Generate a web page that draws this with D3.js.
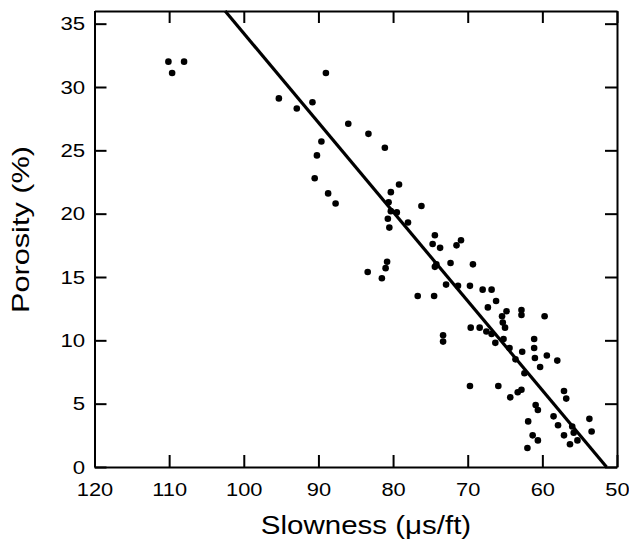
<!DOCTYPE html>
<html lang="en">
	<head>
		<meta charset="utf-8">
		<title>Porosity vs slowness</title>
		<script type="text/javascript" src="https://cdn.jsdelivr.net/npm/d3@7"></script>
		<style type="text/css">
			body {
				margin: 0;
				background: #fff;
			}
			.axis path, .axis line {
				stroke: #000;
				stroke-width: 2;
			}
			.axis text {
				font-family: "Liberation Sans", Arial, Helvetica, sans-serif;
				font-size: 19px;
				fill: #000;
			}
			.title {
				font-family: "Liberation Sans", Arial, Helvetica, sans-serif;
				fill: #000;
				text-anchor: middle;
			}
		</style>
	</head>
	<body>
		<script type="text/javascript">

			//Size of the page and the plot box
			var w = 629;
			var h = 541;
			var plotLeft = 94.5, plotRight = 617, plotTop = 11, plotBottom = 467;

			//Data
			var slowness = [110.1, 108.0, 109.6, 89.0, 95.3, 92.9, 90.8, 86.0, 83.3, 81.1,
				89.6, 90.2, 90.5, 88.7, 87.7, 79.2, 80.3, 80.6, 80.3, 79.5,
				80.7, 80.5, 78.0, 76.2, 74.4, 74.7, 73.7, 70.9, 71.5, 72.3,
				74.2, 74.4, 69.3, 80.8, 81.0, 83.4, 81.5, 72.9, 71.3, 69.7,
				68.0, 66.8, 76.7, 74.5, 66.2, 67.3, 64.8, 65.4, 65.3, 65.0,
				69.6, 68.4, 67.5, 66.8, 73.3, 73.3, 65.2, 62.8, 62.8, 59.7,
				66.3, 64.4, 63.6, 62.7, 61.1, 61.1, 61.0, 59.4, 58.0, 60.3,
				62.4, 69.7, 65.9, 64.3, 63.3, 62.8, 57.1, 56.8, 60.9, 60.6,
				61.9, 58.5, 53.7, 57.9, 56.0, 55.8, 53.4, 57.1, 61.3, 60.6,
				56.3, 55.3, 62.0];
			var porosity = [32.0, 32.0, 31.1, 31.1, 29.1, 28.3, 28.8, 27.1, 26.3, 25.2,
				25.7, 24.6, 22.8, 21.6, 20.8, 22.3, 21.7, 20.9, 20.2, 20.1,
				19.6, 18.9, 19.3, 20.6, 18.3, 17.6, 17.3, 17.9, 17.5, 16.1,
				16.0, 15.8, 16.0, 16.2, 15.7, 15.4, 14.9, 14.4, 14.3, 14.3,
				14.0, 14.0, 13.5, 13.5, 13.1, 12.6, 12.3, 11.9, 11.4, 11.0,
				11.0, 11.0, 10.7, 10.5, 10.4, 9.9, 10.1, 12.4, 12.0, 11.9,
				9.8, 9.4, 8.5, 9.1, 10.1, 9.4, 8.6, 8.8, 8.4, 7.9,
				7.4, 6.4, 6.4, 5.5, 5.9, 6.1, 6.0, 5.4, 4.9, 4.5,
				3.6, 4.0, 3.8, 3.3, 3.2, 2.7, 2.8, 2.5, 2.5, 2.1,
				1.8, 2.1, 1.5];

			//Fitted line, two end points
			var lineSlowness = [102.5, 51.4];
			var linePorosity = [36, 0];

			var xTicks = [120, 110, 100, 90, 80, 70, 60, 50];
			var yTicks = [0, 5, 10, 15, 20, 25, 30, 35];

			var svg = d3.select("body")
				.append("svg")
				.attr("width", w)
				.attr("height", h);

			var x = d3.scaleLinear().domain([120, 50]).range([plotLeft, plotRight]);
			var y = d3.scaleLinear().domain([0, 36]).range([plotBottom, plotTop]);

			//Axes, ticks point inward on all four sides
			var gx = svg.append("g")
				.attr("class", "axis")
				.attr("transform", "translate(0," + plotBottom + ")")
				.call(d3.axisBottom(x).tickValues(xTicks).tickSize(-12).tickSizeOuter(0).tickPadding(16));
			gx.selectAll("text").attr("transform", "scale(1.15,1)");

			var gy = svg.append("g")
				.attr("class", "axis")
				.attr("transform", "translate(" + plotLeft + ",0)")
				.call(d3.axisLeft(y).tickValues(yTicks).tickSize(-12).tickSizeOuter(0).tickPadding(8));
			gy.selectAll("text").attr("transform", "scale(1.17,1)");

			svg.append("g")
				.attr("class", "axis")
				.attr("transform", "translate(0," + plotTop + ")")
				.call(d3.axisTop(x).tickValues(xTicks).tickSize(-12).tickSizeOuter(0).tickFormat(""));

			svg.append("g")
				.attr("class", "axis")
				.attr("transform", "translate(" + plotRight + ",0)")
				.call(d3.axisRight(y).tickValues(yTicks).tickSize(-12).tickSizeOuter(0).tickFormat(""));

			//Points
			svg.selectAll("circle")
				.data(slowness)
				.enter()
				.append("circle")
				.attr("cx", function(d) { return x(d); })
				.attr("cy", function(d, i) { return y(porosity[i]); })
				.attr("r", 3.3)
				.attr("fill", "#000");

			//Fitted line
			var line = d3.line()
				.x(function(d) { return x(d); })
				.y(function(d, i) { return y(linePorosity[i]); });

			svg.append("path")
				.attr("d", line(lineSlowness))
				.attr("fill", "none")
				.attr("stroke", "#000")
				.attr("stroke-width", 3.2);

			//Titles
			svg.append("text")
				.attr("class", "title")
				.attr("transform", "translate(366,534) scale(1.18,1)")
				.style("font-size", "25px")
				.text("Slowness (\u03BCs/ft)");

			svg.append("text")
				.attr("class", "title")
				.attr("transform", "translate(29,229.5) rotate(-90) scale(1.28,1)")
				.style("font-size", "24px")
				.text("Porosity (%)");

		</script>
	</body>
</html>
